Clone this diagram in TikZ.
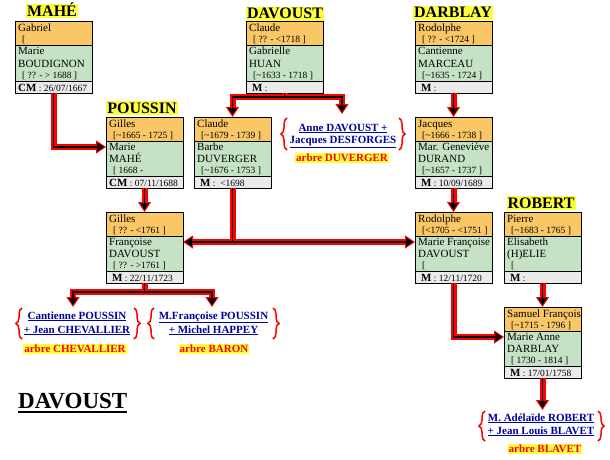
\documentclass[tikz,border=0pt]{standalone}
\usepackage{fontspec}
\setmainfont{Liberation Serif}
\usetikzlibrary{calc,arrows.meta,decorations.pathreplacing}
\definecolor{corange}{HTML}{F9C766}
\definecolor{cgreen}{HTML}{C5E2C5}
\definecolor{cgray}{HTML}{EAEAEA}
\definecolor{hyellow}{HTML}{FFFF40}
\definecolor{kidblue}{RGB}{0,0,160}
\definecolor{linkred}{RGB}{255,0,0}
\newcommand\Mlab{{\fontsize{11}{11}\selectfont\bfseries M}}
\newcommand\CMlab{{\fontsize{11}{11}\selectfont\bfseries CM}}
\newcommand\famcard[9]{%
  \node[sec,fill=corange,minimum height=24pt] (#1-o) at (#2,#3) {};
  \node[sec,fill=cgreen,minimum height=35pt] (#1-g) at (#2,#3+24) {};
  \node[sec,fill=cgray,minimum height=12pt] (#1-m) at (#2,#3+59) {};
  \node[txt] (#1-t1) at (#2+3,#3+10) {#4};
  \node[dtxt] (#1-t2) at (#2+7,#3+21) {#5};
  \node[txt] (#1-t3) at (#2+3,#3+33) {#6};
  \node[txt] (#1-t4) at (#2+3,#3+45) {#7};
  \node[dtxt] (#1-t5) at (#2+7,#3+56) {#8};
  \node[dtxt] (#1-t6) at (#2+3,#3+69) {#9};
}
\begin{document}
\begin{tikzpicture}[x=1pt,y=-1pt,
  sec/.style={draw=black,line width=1pt,inner sep=0pt,outer sep=0pt,minimum width=77pt,anchor=north west},
  txt/.style={anchor=base west,inner sep=0pt,font=\fontsize{11}{13}\selectfont},
  dtxt/.style={anchor=base west,inner sep=0pt,font=\fontsize{9.5}{11}\selectfont},
  hdr/.style={fill=hyellow,inner xsep=1pt,inner ysep=1pt,text height=11pt,text depth=1pt,font=\fontsize{16}{16}\selectfont\bfseries},
  kid/.style={anchor=base,inner sep=1pt,text=kidblue,font=\fontsize{11}{13}\selectfont\bfseries},
  tree/.style={fill=hyellow,text=red,inner xsep=1pt,inner ysep=1pt,text height=7.5pt,text depth=1pt,font=\fontsize{11}{11}\selectfont\bfseries},
  brc/.style={draw=red,line width=1.5pt,decorate,decoration={brace,amplitude=6pt}},
  redlink/.style={draw=linkred,line width=6pt,line join=miter,-{Triangle[width=13pt,length=10pt,fill=black,line width=1pt]}},
  blacklink/.style={draw=black,line width=1.3pt,line join=miter,shorten >=9pt}]
\useasboundingbox (0,0) rectangle (610,460);
\fill[white] (0,0) rectangle (610,460);

% surname headers
\node[hdr] (hmahe) at (52,11.5) {MAHÉ};
\node[hdr] (hdav) at (285,14) {DAVOUST};
\node[hdr] (hdarb) at (453,13) {DARBLAY};
\node[hdr] (hpous) at (142,108) {POUSSIN};
\node[hdr] (hrob) at (541,203) {ROBERT};

% cards
\famcard{mahe}{15}{22}{Gabriel}{[}{Marie}{BOUDIGNON}{[ ?? - > 1688 ]}{\CMlab\ : 26/07/1667}
\famcard{dav}{246}{22}{Claude}{[ ?? - <1718 ]}{Gabrielle}{HUAN}{[\textasciitilde1633 - 1718 ]}{\hspace*{3pt}\Mlab\ :}
\famcard{darblay}{415}{22}{Rodolphe}{[ ?? - <1724 ]}{Cantienne}{MARCEAU}{[\textasciitilde1635 - 1724 ]}{\hspace*{3pt}\Mlab\ :}
\famcard{poussin}{106}{117}{Gilles}{[\textasciitilde1665 - 1725 ]}{Marie}{MAHÉ}{[ 1668 -}{\CMlab\ : 07/11/1688}
\famcard{claude}{194}{117}{Claude}{[\textasciitilde1679 - 1739 ]}{Barbe}{DUVERGER}{[\textasciitilde1676 - 1753 ]}{\hspace*{3pt}\Mlab\ :\ \ <1698}
\famcard{jacques}{415}{117}{Jacques}{[\textasciitilde1666 - 1738 ]}{Mar. Geneviève}{DURAND}{[\textasciitilde1657 - 1737 ]}{\hspace*{3pt}\Mlab\ : 10/09/1689}
\famcard{gilles}{106}{212}{Gilles}{[ ?? - <1761 ]}{Françoise}{DAVOUST}{[ ?? - >1761 ]}{\hspace*{3pt}\Mlab\ : 22/11/1723}
\famcard{rod}{415}{212}{Rodolphe}{[<1705 - <1751 ]}{Marie Françoise}{DAVOUST}{[}{\hspace*{3pt}\Mlab\ : 12/11/1720}
\famcard{pierre}{504}{212}{Pierre}{[\textasciitilde1683 - 1765 ]}{Elisabeth}{(H)ELIE}{[}{\hspace*{3pt}\Mlab\ :}
\famcard{samuel}{504}{307}{Samuel François}{[\textasciitilde1715 - 1796 ]}{Marie Anne}{DARBLAY}{[ 1730 - 1814 ]}{\hspace*{3pt}\Mlab\ : 17/01/1758}

% children
\node[kid] (anne1) at (343,131) {\underline{Anne DAVOUST +}};
\node[kid] (anne2) at (343,143) {\underline{Jacques DESFORGES}};
\node[tree] (anneT) at (342,158) {arbre DUVERGER};
\draw[brc] (287,150) -- (287,118);
\draw[brc] (399,118) -- (399,150);

\node[kid] (cant1) at (77,319) {\underline{Cantienne POUSSIN}};
\node[kid] (cant2) at (77,333) {\underline{+ Jean CHEVALLIER}};
\node[tree] (cantT) at (75,349) {arbre CHEVALLIER};
\draw[brc] (22,339) -- (22,308);
\draw[brc] (134,308) -- (134,339);

\node[kid] (mfr1) at (213.5,319) {\underline{M.Françoise POUSSIN}};
\node[kid] (mfr2) at (213.5,333) {\underline{+ Michel HAPPEY}};
\node[tree] (mfrT) at (214,349) {arbre BARON};
\draw[brc] (154,339) -- (154,308);
\draw[brc] (273,308) -- (273,339);

\node[kid] (adel1) at (541,421) {\underline{M. Adélaïde ROBERT}};
\node[kid] (adel2) at (541,434) {\underline{+ Jean Louis BLAVET}};
\node[tree] (adelT) at (545,449) {arbre BLAVET};
\draw[brc] (485,441) -- (485,411);
\draw[brc] (598,411) -- (598,441);

% title
\node[anchor=base west,inner sep=0pt,font=\fontsize{23}{23}\selectfont\bfseries] (title) at (18,408) {DAVOUST};
\draw[line width=2pt] ($(title.base west)+(0,4)$) -- ($(title.base east)+(0,4)$);

% links
\foreach \st in {redlink,blacklink}{
  \draw[\st] (mahe-m.south) |- ($(poussin-g.north west)+(0,6)$);
  \draw[\st] (dav-m.south) -- ++(0,4) -| (claude-o.north);
  \draw[\st] (dav-m.south) -- ++(0,4) -| ($(anne1.base)+(-1,-17)$);
  \draw[\st] (darblay-m.south) -- (jacques-o.north);
  \draw[\st] (poussin-m.south) -- (gilles-o.north);
  \draw[\st] (claude-m.south) |- ($(gilles-g.north east)+(0,6)$);
  \draw[\st] (claude-m.south) |- ($(rod-g.north west)+(0,6)$);
  \draw[\st] (jacques-m.south) -- (rod-o.north);
  \draw[\st] (gilles-m.south) -- ++(0,9) -| ($(cant1.base)+(-4,-12)$);
  \draw[\st] (gilles-m.south) -- ++(0,9) -| ($(mfr1.base)+(-1.5,-12)$);
  \draw[\st] (rod-m.south) |- ($(samuel-g.north west)+(0,6)$);
  \draw[\st] (pierre-m.south) -- (samuel-o.north);
  \draw[\st] (samuel-m.south) -- ($(samuel-m.south |- adel1.base)+(0,-11)$);
}
\end{tikzpicture}
\end{document}
